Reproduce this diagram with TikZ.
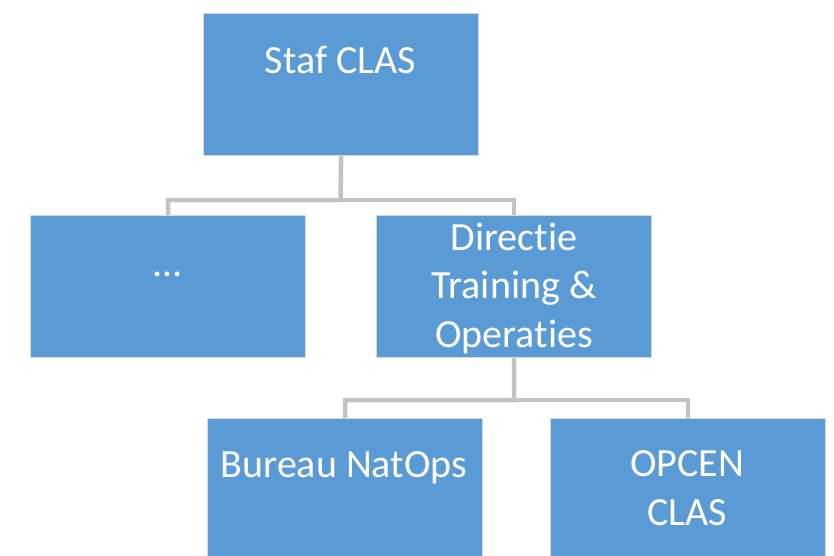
\documentclass[tikz,border=0pt]{standalone}
\usepackage{fontspec}
\setmainfont{Carlito}[Ligatures={NoCommon}]
\definecolor{boxblue}{HTML}{5B9BD5}
\definecolor{boxedge}{HTML}{D9D9D9}
\definecolor{linegray}{HTML}{C3C3C3}
\pgfdeclarelayer{bg}
\pgfsetlayers{bg,main}
\begin{document}
\begin{tikzpicture}[x=1pt,y=-1pt,
  orgbox/.style={draw=boxedge, line width=1.2pt, fill=boxblue, minimum width=275pt, minimum height=142pt, inner sep=0pt, anchor=north west},
  lbl/.style={text=white, font=\fontsize{40}{48.5}\selectfont, anchor=base, inner sep=0pt, align=center},
  conn/.style={draw=linegray, line width=4.5pt}]
\useasboundingbox (0,0) rectangle (834,556);
\clip (0,0) rectangle (834,556);
\node[orgbox] (staf) at (203,13) {};
\node[orgbox] (dots) at (30,215) {};
\node[orgbox] (dir) at (376,215) {};
\node[orgbox] (bur) at (207,418) {};
\node[orgbox] (opc) at (550,418) {};
\coordinate (j1) at (340.5,200);
\coordinate (j2) at (514,400);
\begin{pgfonlayer}{bg}
\draw[conn] (staf.south) -- (j1) -| (dots.north);
\draw[conn] (j1) -| (dir.north);
\draw[conn] (dir.south) -- (j2) -| (bur.north);
\draw[conn] (j2) -| (opc.north);
\end{pgfonlayer}
\node[lbl] (tstaf) at (340.5,74) {Staf CLAS};
\node[lbl] (tdots) at (167.5,276) {...};
\node[lbl] (tdir) at (514,347) {Directie\\Training \&\\Operaties};
\node[lbl] (tbur) at (344,477) {Bureau NatOps};
\node[lbl] (topc) at (687,525) {OPCEN\\CLAS};
\end{tikzpicture}
\end{document}
